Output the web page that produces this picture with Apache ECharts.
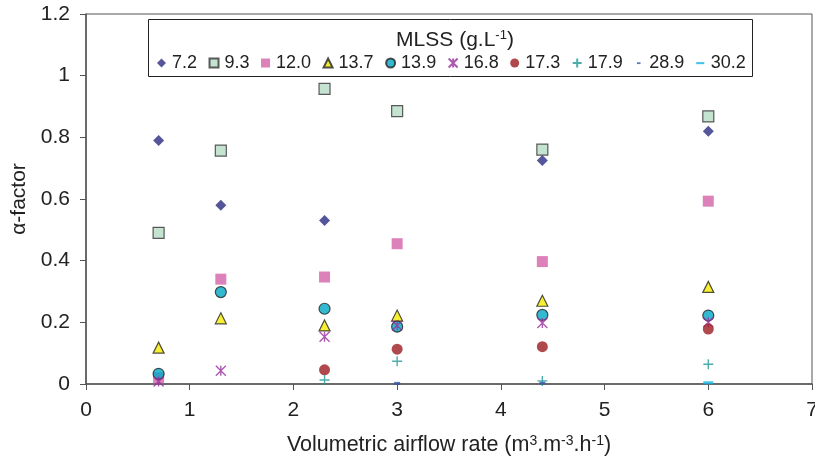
<!DOCTYPE html>
<html>
<head>
<meta charset="utf-8">
<script src="https://cdn.jsdelivr.net/npm/echarts@6/dist/echarts.min.js"></script>
<style>html,body{margin:0;padding:0;background:#fff;}#c{width:815px;height:459px;}</style>
</head>
<body>
<div id="c"></div>
<script>
// Data
const airflow = [0.7, 1.3, 2.3, 3.0, 4.4, 6.0];
const mlss_7_2  = [0.79, 0.58, 0.53, null, 0.725, 0.82];
const mlss_9_3  = [0.49, 0.757, 0.957, 0.885, 0.76, 0.868];
const mlss_12_0 = [0.02, 0.34, 0.347, 0.455, 0.397, 0.593];
const mlss_13_7 = [0.118, 0.213, 0.19, 0.222, 0.27, 0.315];
const mlss_13_9 = [0.033, 0.298, 0.244, 0.186, 0.224, 0.222];
const mlss_16_8 = [0.008, 0.043, 0.153, 0.19, 0.198, 0.2];
const mlss_17_3 = [null, null, 0.046, 0.113, 0.121, 0.178];
const mlss_17_9 = [null, null, 0.013, 0.074, 0.01, 0.064];
const mlss_28_9 = [null, null, null, 0.002, 0.003, null];
const mlss_30_2 = [null, null, null, null, null, 0.004];
const xTicks = [0, 1, 2, 3, 4, 5, 6, 7];
const yTicks = [0, 0.2, 0.4, 0.6, 0.8, 1, 1.2];

function pts(vals){ return airflow.map((x,i)=>vals[i]==null?null:[x,vals[i]]).filter(p=>p); }

const FONT = 'Liberation Sans';
const series = [
  {name:'7.2', data:pts(mlss_7_2), symbol:'diamond', symbolSize:11, itemStyle:{color:'#2b2c80'}},
  {name:'9.3', data:pts(mlss_9_3), symbol:'rect', symbolSize:11, itemStyle:{color:'#b6dcc6', borderColor:'#333', borderWidth:1.2}},
  {name:'12.0', data:pts(mlss_12_0), symbol:'rect', symbolSize:11, itemStyle:{color:'#d462a9'}},
  {name:'13.7', data:pts(mlss_13_7), symbol:'triangle', symbolSize:11, itemStyle:{color:'#f5eb00', borderColor:'#222', borderWidth:1.2}},
  {name:'13.9', data:pts(mlss_13_9), symbol:'circle', symbolSize:11, itemStyle:{color:'#00a9c6', borderColor:'#222', borderWidth:1.2}},
  {name:'16.8', data:pts(mlss_16_8), symbol:'path://M0,0L10,10M10,0L0,10M5,0L5,10', symbolSize:10, itemStyle:{color:'rgba(0,0,0,0)', borderColor:'#9a2f9e', borderWidth:1.4}},
  {name:'17.3', data:pts(mlss_17_3), symbol:'circle', symbolSize:11, itemStyle:{color:'#9b1c22'}},
  {name:'17.9', data:pts(mlss_17_9), symbol:'path://M5,0L5,10M0,5L10,5', symbolSize:10, itemStyle:{color:'rgba(0,0,0,0)', borderColor:'#1f9a97', borderWidth:1.4}},
  {name:'28.9', data:pts(mlss_28_9), symbol:'rect', symbolSize:[6,3], itemStyle:{color:'#3558a8'}},
  {name:'30.2', data:pts(mlss_30_2), symbol:'rect', symbolSize:[10,3], itemStyle:{color:'#14b4e4'}}
].map(s=>Object.assign({type:'scatter', z:3}, s));

const legendIcons = {
  '28.9':'path://M0,0L0,0M3,4.2L7,4.2L7,6.2L3,6.2Z M10,10L10,10',
  '30.2':'path://M0,0L0,0M0.5,4L9.5,4L9.5,6.3L0.5,6.3Z M10,10L10,10'
};

const chart = echarts.init(document.getElementById('c'));
chart.setOption({
  animation:false,
  backgroundColor:'#fff',
  textStyle:{fontFamily:FONT},
  title:{
    text:'MLSS (g.L{sup|-1})',
    left:450, textAlign:'center', top:24,
    textStyle:{fontFamily:FONT, fontSize:21, fontWeight:'normal', color:'#222',
      rich:{sup:{fontFamily:FONT, fontSize:13, verticalAlign:'top', padding:[0,0,9,0], color:'#222'}}}
  },
  graphic:[{type:'rect', shape:{x:148.5, y:19.5, width:604, height:57}, style:{fill:'#fff', stroke:'#222', lineWidth:1}, z:1}],
  legend:{
    left:152, top:49, itemWidth:9, itemHeight:9, itemGap:11.5,
    textStyle:{fontFamily:FONT, fontSize:18, color:'#222', padding:[0,0,0,1]},
    data:series.map(s=>legendIcons[s.name]?{name:s.name, icon:legendIcons[s.name]}:s.name), z:5
  },
  grid:{left:86, right:3, top:14, bottom:75, show:true, borderColor:'#555', borderWidth:1, outerBoundsMode:'none', containLabel:false},
  xAxis:{
    type:'value', min:0, max:7, interval:1,
    name:'Volumetric airflow rate (m{sup|3}.m{sup|-3}.h{sup|-1})', nameLocation:'middle', nameGap:50,
    nameTextStyle:{fontFamily:FONT, fontSize:21.5, color:'#222',
      rich:{sup:{fontFamily:FONT, fontSize:14, verticalAlign:'top', padding:[0,0,9,0], color:'#222'}}},
    axisLine:{lineStyle:{color:'#555', width:1.5}},
    axisTick:{inside:false, length:6, lineStyle:{color:'#555'}},
    axisLabel:{fontFamily:FONT, fontSize:21, color:'#222', margin:16},
    splitLine:{show:false}
  },
  yAxis:{
    type:'value', min:0, max:1.2, interval:0.2,
    name:'α-factor', nameLocation:'middle', nameGap:55,
    nameTextStyle:{fontFamily:FONT, fontSize:21, color:'#222'},
    axisLine:{show:true, lineStyle:{color:'#555', width:1.5}},
    axisTick:{show:true, inside:false, length:6, lineStyle:{color:'#555'}},
    axisLabel:{fontFamily:FONT, fontSize:21, color:'#222', margin:16,
      formatter:v=>String(Math.round(v*10)/10)},
    splitLine:{show:false}
  },
  series:series
});
</script>
</body>
</html>
